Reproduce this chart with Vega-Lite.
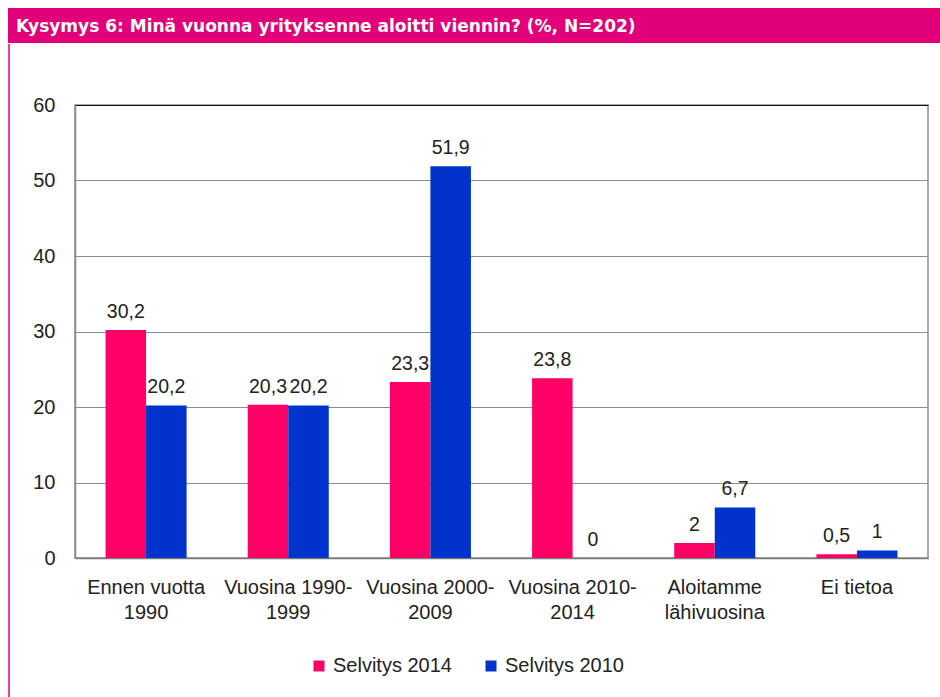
{
  "$schema": "https://vega.github.io/schema/vega-lite/v6.json",
  "padding": {"left": 8, "top": 8, "right": 0, "bottom": 0},
  "background": "white",
  "config": {
    "locale": {"number": {"decimal": ",", "thousands": " ", "grouping": [3], "currency": ["", " €"]}},
    "font": "Liberation Sans"
  },
  "spacing": 0,
  "vconcat": [
    {
      "width": 932,
      "height": 35,
      "view": {"fill": "#e2007a", "stroke": null},
      "data": {"values": [{"t": "Kysymys 6: Minä vuonna yrityksenne aloitti viennin? (%, N=202)"}]},
      "mark": {"type": "text", "align": "left", "baseline": "middle", "color": "white", "font": "DejaVu Sans", "fontSize": 17, "fontWeight": "bold", "dx": -458, "dy": 1},
      "encoding": {"text": {"field": "t"}}
    },
    {
      "spacing": 22,
      "hconcat": [
        {
          "width": 1,
          "height": 592,
          "view": {"stroke": null},
          "data": {"values": [{"v": 1, "y0": 0, "y1": 653}]},
          "mark": {"type": "rule", "color": "#e2007a", "strokeWidth": 1.5},
          "encoding": {
            "x": {"field": "v", "type": "quantitative", "scale": {"domain": [0, 1], "nice": false}, "axis": null},
            "y": {"field": "y0", "type": "quantitative", "scale": {"domain": [0, 592], "nice": false}, "axis": null},
            "y2": {"field": "y1"}
          }
        },
        {
          "width": 853,
          "height": 453,
          "view": {"stroke": "#8c8c8c", "strokeWidth": 1.5},
          "data": {"values": [
            {"cat": "Ennen vuotta|1990", "s": "Selvitys 2014", "v": 30.2},
            {"cat": "Ennen vuotta|1990", "s": "Selvitys 2010", "v": 20.2},
            {"cat": "Vuosina 1990-|1999", "s": "Selvitys 2014", "v": 20.3},
            {"cat": "Vuosina 1990-|1999", "s": "Selvitys 2010", "v": 20.2},
            {"cat": "Vuosina 2000-|2009", "s": "Selvitys 2014", "v": 23.3},
            {"cat": "Vuosina 2000-|2009", "s": "Selvitys 2010", "v": 51.9},
            {"cat": "Vuosina 2010-|2014", "s": "Selvitys 2014", "v": 23.8},
            {"cat": "Vuosina 2010-|2014", "s": "Selvitys 2010", "v": 0},
            {"cat": "Aloitamme|lähivuosina", "s": "Selvitys 2014", "v": 2},
            {"cat": "Aloitamme|lähivuosina", "s": "Selvitys 2010", "v": 6.7},
            {"cat": "Ei tietoa", "s": "Selvitys 2014", "v": 0.5},
            {"cat": "Ei tietoa", "s": "Selvitys 2010", "v": 1}
          ]},
          "encoding": {
            "x": {
              "field": "cat", "type": "nominal", "sort": null,
              "scale": {"paddingInner": 0.43, "paddingOuter": 0.215},
              "axis": {"title": null, "labelAngle": 0, "labelExpr": "split(datum.label, '|')", "ticks": false, "domainColor": "#7a7a7a", "domainWidth": 1.5, "labelFontSize": 20, "labelColor": "#222222", "labelPadding": 19, "labelLineHeight": 25}
            },
            "xOffset": {"field": "s", "type": "nominal", "sort": ["Selvitys 2014", "Selvitys 2010"], "scale": {"paddingInner": 0, "paddingOuter": 0}},
            "y": {
              "field": "v", "type": "quantitative", "scale": {"domain": [0, 60], "nice": false},
              "axis": {"values": [0, 10, 20, 30, 40, 50, 60], "title": null, "ticks": false, "gridColor": {"condition": {"test": "datum.value === 60", "value": "#111111"}, "value": "#8c8c8c"}, "domainColor": "#8c8c8c", "domainWidth": 1.5, "labelFontSize": 20, "labelPadding": 20, "labelColor": "#222222"}
            }
          },
          "layer": [
            {
              "mark": {"type": "bar"},
              "encoding": {
                "color": {
                  "field": "s", "type": "nominal", "sort": ["Selvitys 2014", "Selvitys 2010"],
                  "scale": {"domain": ["Selvitys 2014", "Selvitys 2010"], "range": ["#ff0066", "#0033cc"]},
                  "legend": {"title": null, "orient": "none", "legendX": 301, "legendY": 648, "direction": "horizontal", "symbolType": "square", "symbolSize": 121, "symbolStrokeWidth": 0, "labelFontSize": 20, "labelColor": "#222222", "columnPadding": 29, "labelOffset": 4}
                }
              }
            },
            {
              "mark": {"type": "text", "baseline": "alphabetic", "dy": -12, "fontSize": 19.5, "color": "#222222"},
              "encoding": {"text": {"field": "v", "type": "quantitative", "format": ".1~f"}}
            }
          ]
        }
      ]
    }
  ]
}
